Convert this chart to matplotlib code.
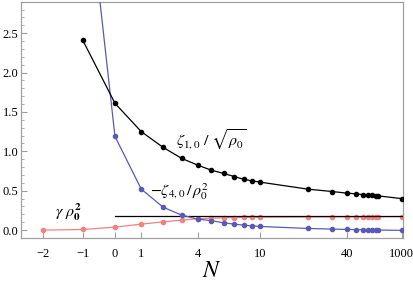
import numpy as np
import matplotlib
matplotlib.use('Agg')
import matplotlib.pyplot as plt
from matplotlib.ticker import FixedLocator, FixedFormatter, MultipleLocator

# 數據（自圖中讀取）
N_main = [-1, 0, 1, 2, 3, 4, 5, 6, 7, 8, 9, 10, 20, 30, 40, 50, 60, 70, 80, 90, 100, 1000]
zeta1 = [2.41, 1.61, 1.25, 1.05, 0.91, 0.825, 0.76, 0.72, 0.68, 0.645, 0.625, 0.61,
         0.52, 0.49, 0.47, 0.46, 0.45, 0.445, 0.44, 0.437, 0.435, 0.40]
zeta4 = [4.86, 1.19, 0.52, 0.29, 0.19, 0.14, 0.12, 0.093, 0.076, 0.063, 0.053, 0.047,
         0.021, 0.013, 0.009, 0.007, 0.005, 0.004, 0.003, 0.002, 0.001, -0.003]
N_gamma = [-2, -1, 0, 1, 2, 3, 4, 5, 6, 7, 8, 9, 10, 20, 30, 40, 50, 60, 70, 80, 90, 100, 1000]
gamma = [0.0, 0.008, 0.038, 0.076, 0.105, 0.127, 0.144, 0.152, 0.157, 0.160, 0.162, 0.163,
         0.164, 0.167, 0.168, 0.169, 0.169, 0.170, 0.170, 0.170, 0.170, 0.170, 0.172]
gamma_limit = 0.175
xticks = [-2, -1, 0, 1, 4, 10, 40, 1000]
xticklabels = ['\u22122', '\u22121', '0', '1', '4', '10', '40', '1000']
yticks = [0.0, 0.5, 1.0, 1.5, 2.0, 2.5]
yticklabels = ['0.0', '0.5', '1.0', '1.5', '2.0', '2.5']

plt.rcParams['font.family'] = ['Liberation Serif', 'DejaVu Serif']
plt.rcParams['mathtext.fontset'] = 'stix'

fig = plt.figure(figsize=(4.14, 2.81), dpi=100)
ax = fig.add_axes([21 / 414, 1 - 238 / 281, (403.3 - 21) / 414, (238 - 1.7) / 281])

# x 軸用 N/(N+10) 變換
ax.set_xscale('function', functions=(lambda x: x / (x + 10.0),
                                     lambda y: 10.0 * y / (1.0 - y)))

blue = '#5a5ab4'
red = '#f48080'
ax.plot(N_main, zeta4, color=blue, lw=0.9, marker='o', ms=3.0, zorder=3)
ax.plot(N_gamma, gamma, color=red, lw=0.9, marker='o', ms=3.0, zorder=2)
ax.plot([0, 2300], [gamma_limit, gamma_limit], color='black', lw=0.9, zorder=2)
ax.plot(N_main, zeta1, color='black', lw=0.9, marker='o', ms=3.0, zorder=4)

ax.set_xlim(-2.45, 2300)
ax.set_ylim(-0.1, 2.9)

ax.xaxis.set_major_locator(FixedLocator(xticks))
ax.xaxis.set_major_formatter(FixedFormatter(xticklabels))
ax.xaxis.set_minor_locator(FixedLocator([]))
ax.yaxis.set_major_locator(FixedLocator(yticks))
ax.yaxis.set_major_formatter(FixedFormatter(yticklabels))
ax.yaxis.set_minor_locator(MultipleLocator(0.1))

for s in ax.spines.values():
    s.set_color('#a0a0a0')
    s.set_linewidth(0.9)
ax.tick_params(which='both', direction='in', color='#a0a0a0', labelsize=9,
               top=False, right=False)
ax.tick_params(which='major', length=4)
ax.tick_params(which='minor', length=2)
ax.tick_params(axis='y', pad=2)
ax.tick_params(axis='x', pad=7)

ax.set_xlabel('$N$', fontsize=17, labelpad=1)

fs = 11.5
ax.annotate(r'$\zeta_{1,0}\ /\ \sqrt{\rho_0}$', xy=(211 / 414, 1 - 140 / 281),
            xycoords='figure fraction', fontsize=fs, ha='center', va='center')
ax.annotate(r'$-\zeta_{4,0}\,/\,\rho_0^2$', xy=(180 / 414, 1 - 192 / 281),
            xycoords='figure fraction', fontsize=fs, ha='center', va='center')
ax.annotate(r'$\gamma\ \rho_{\mathbf{0}}^{\mathbf{2}}$', xy=(68 / 414, 1 - 212 / 281),
            xycoords='figure fraction', fontsize=fs, ha='center', va='center')

fig.savefig('out.png', dpi=100)
